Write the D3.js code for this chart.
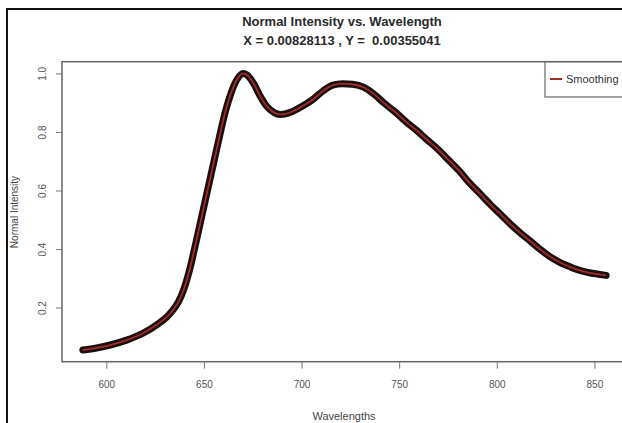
<!DOCTYPE html>
<html>
<head>
<meta charset="utf-8">
<script src="https://cdn.jsdelivr.net/npm/d3@7"></script>
<style>
  body { margin: 0; background: #fff; }
  text { font-family: "Liberation Sans Narrow", "Arial Narrow", "Liberation Sans", Arial, sans-serif; white-space: pre; }
</style>
</head>
<body>
<div id="chart"></div>
<script>
// wavelength (nm) and normalised intensity
const wavelengths = [588, 595, 602, 610, 619, 626, 631, 634, 637, 640, 643, 646, 649, 652, 655, 658, 661, 664, 667, 670, 672,
  675.5, 679, 682, 686, 689, 692, 696, 701, 706, 711, 716, 721, 726, 732, 737, 742, 748, 754, 759, 764, 770, 775,
  781, 786, 792, 797, 802, 807, 812, 817, 822, 827, 833, 838, 843, 848, 852, 856];
const intensity = [0.055, 0.062, 0.072, 0.088, 0.113, 0.142, 0.168, 0.190, 0.220, 0.268, 0.338, 0.425, 0.515, 0.605,
  0.695, 0.785, 0.870, 0.935, 0.980, 1.000, 0.995, 0.965, 0.920, 0.889, 0.866, 0.860, 0.862, 0.872, 0.890, 0.912,
  0.940, 0.960, 0.965, 0.963, 0.952, 0.930, 0.900, 0.868, 0.832, 0.805, 0.775, 0.740, 0.706, 0.665, 0.626, 0.585,
  0.550, 0.518, 0.485, 0.455, 0.428, 0.400, 0.375, 0.352, 0.338, 0.326, 0.318, 0.314, 0.310];
const xTicks = [600, 650, 700, 750, 800, 850];
const yTicks = [0.2, 0.4, 0.6, 0.8, 1.0];
const titleLines = ['Normal Intensity vs. Wavelength', 'X = 0.00828113 , Y =  0.00355041'];
const legendLabels = ['Smoothing'];

const width = 622, height = 423;
const svg = d3.select('#chart').append('svg')
  .attr('width', width).attr('height', height)
  .style('display', 'block');

svg.append('rect').attr('width', width).attr('height', height).attr('fill', '#fff');

// outer frame (runs off the right and bottom)
svg.append('rect')
  .attr('x', 7).attr('y', 9).attr('width', 700).attr('height', 500)
  .attr('fill', 'none').attr('stroke', '#111').attr('stroke-width', 2);

const x = d3.scaleLinear().domain([577.3, 866.7]).range([62, 627]);
const y = d3.scaleLinear().domain([0.015, 1.04]).range([361.7, 61.7]);

// plot box
svg.append('rect')
  .attr('x', x.range()[0]).attr('y', y.range()[1])
  .attr('width', x.range()[1] - x.range()[0]).attr('height', y.range()[0] - y.range()[1])
  .attr('fill', 'none').attr('stroke', '#666').attr('stroke-width', 1.5);

// x axis
const xAxis = svg.append('g')
  .attr('transform', `translate(0,${y.range()[0]})`)
  .call(d3.axisBottom(x).tickValues(xTicks).tickSize(7).tickPadding(12).tickFormat(d3.format('d')));
xAxis.select('.domain').remove();
xAxis.selectAll('line').attr('stroke', '#777');
xAxis.selectAll('text').attr('fill', '#555').attr('font-size', 10);

// y axis, labels parallel to the axis
const yAxis = svg.append('g')
  .attr('transform', `translate(${x.range()[0]},0)`)
  .call(d3.axisLeft(y).tickValues(yTicks).tickSize(6).tickFormat(d3.format('.1f')));
yAxis.select('.domain').remove();
yAxis.selectAll('line').attr('stroke', '#777');
yAxis.selectAll('text')
  .attr('fill', '#555').attr('font-size', 10)
  .attr('text-anchor', 'middle')
  .attr('x', 0).attr('dy', 0)
  .attr('transform', 'translate(-16,0) rotate(-90)');

const pts = wavelengths.map((w, i) => [w, intensity[i]]);
const line = d3.line()
  .x(d => x(d[0]))
  .y(d => y(d[1]))
  .curve(d3.curveMonotoneX);

// raw points drawn as a thick dark band, smoothing in red on top
svg.append('path').datum(pts)
  .attr('d', line)
  .attr('fill', 'none').attr('stroke', '#1a0f0f').attr('stroke-width', 7)
  .attr('stroke-linecap', 'round').attr('stroke-linejoin', 'round');
svg.append('path').datum(pts)
  .attr('d', line)
  .attr('fill', 'none').attr('stroke', '#a52a2a').attr('stroke-width', 1.8);

// titles
svg.selectAll('.title').data(titleLines).enter().append('text')
  .attr('class', 'title')
  .attr('x', 342).attr('y', (d, i) => 26 + i * 19)
  .attr('text-anchor', 'middle')
  .attr('font-size', 13).attr('font-weight', 'bold').attr('fill', '#2a2a2a')
  .text(d => d);

svg.append('text')
  .attr('x', 344).attr('y', 420)
  .attr('text-anchor', 'middle').attr('font-size', 11).attr('fill', '#444')
  .text('Wavelengths');

svg.append('text')
  .attr('transform', 'translate(18,212) rotate(-90)')
  .attr('text-anchor', 'middle').attr('font-size', 10).attr('fill', '#444')
  .text('Normal Intensity');

// legend
const legend = svg.append('g').attr('transform', 'translate(545,62)');
legend.append('rect')
  .attr('width', 100).attr('height', 35)
  .attr('fill', '#fff').attr('stroke', '#666').attr('stroke-width', 1.2);
legendLabels.forEach((lab, i) => {
  legend.append('line')
    .attr('x1', 5).attr('x2', 17).attr('y1', 17 + i * 14).attr('y2', 17 + i * 14)
    .attr('stroke', '#a52a2a').attr('stroke-width', 2);
  legend.append('text')
    .attr('x', 21).attr('y', 21 + i * 14)
    .attr('font-size', 11).attr('fill', '#333')
    .text(lab);
});
</script>
</body>
</html>
